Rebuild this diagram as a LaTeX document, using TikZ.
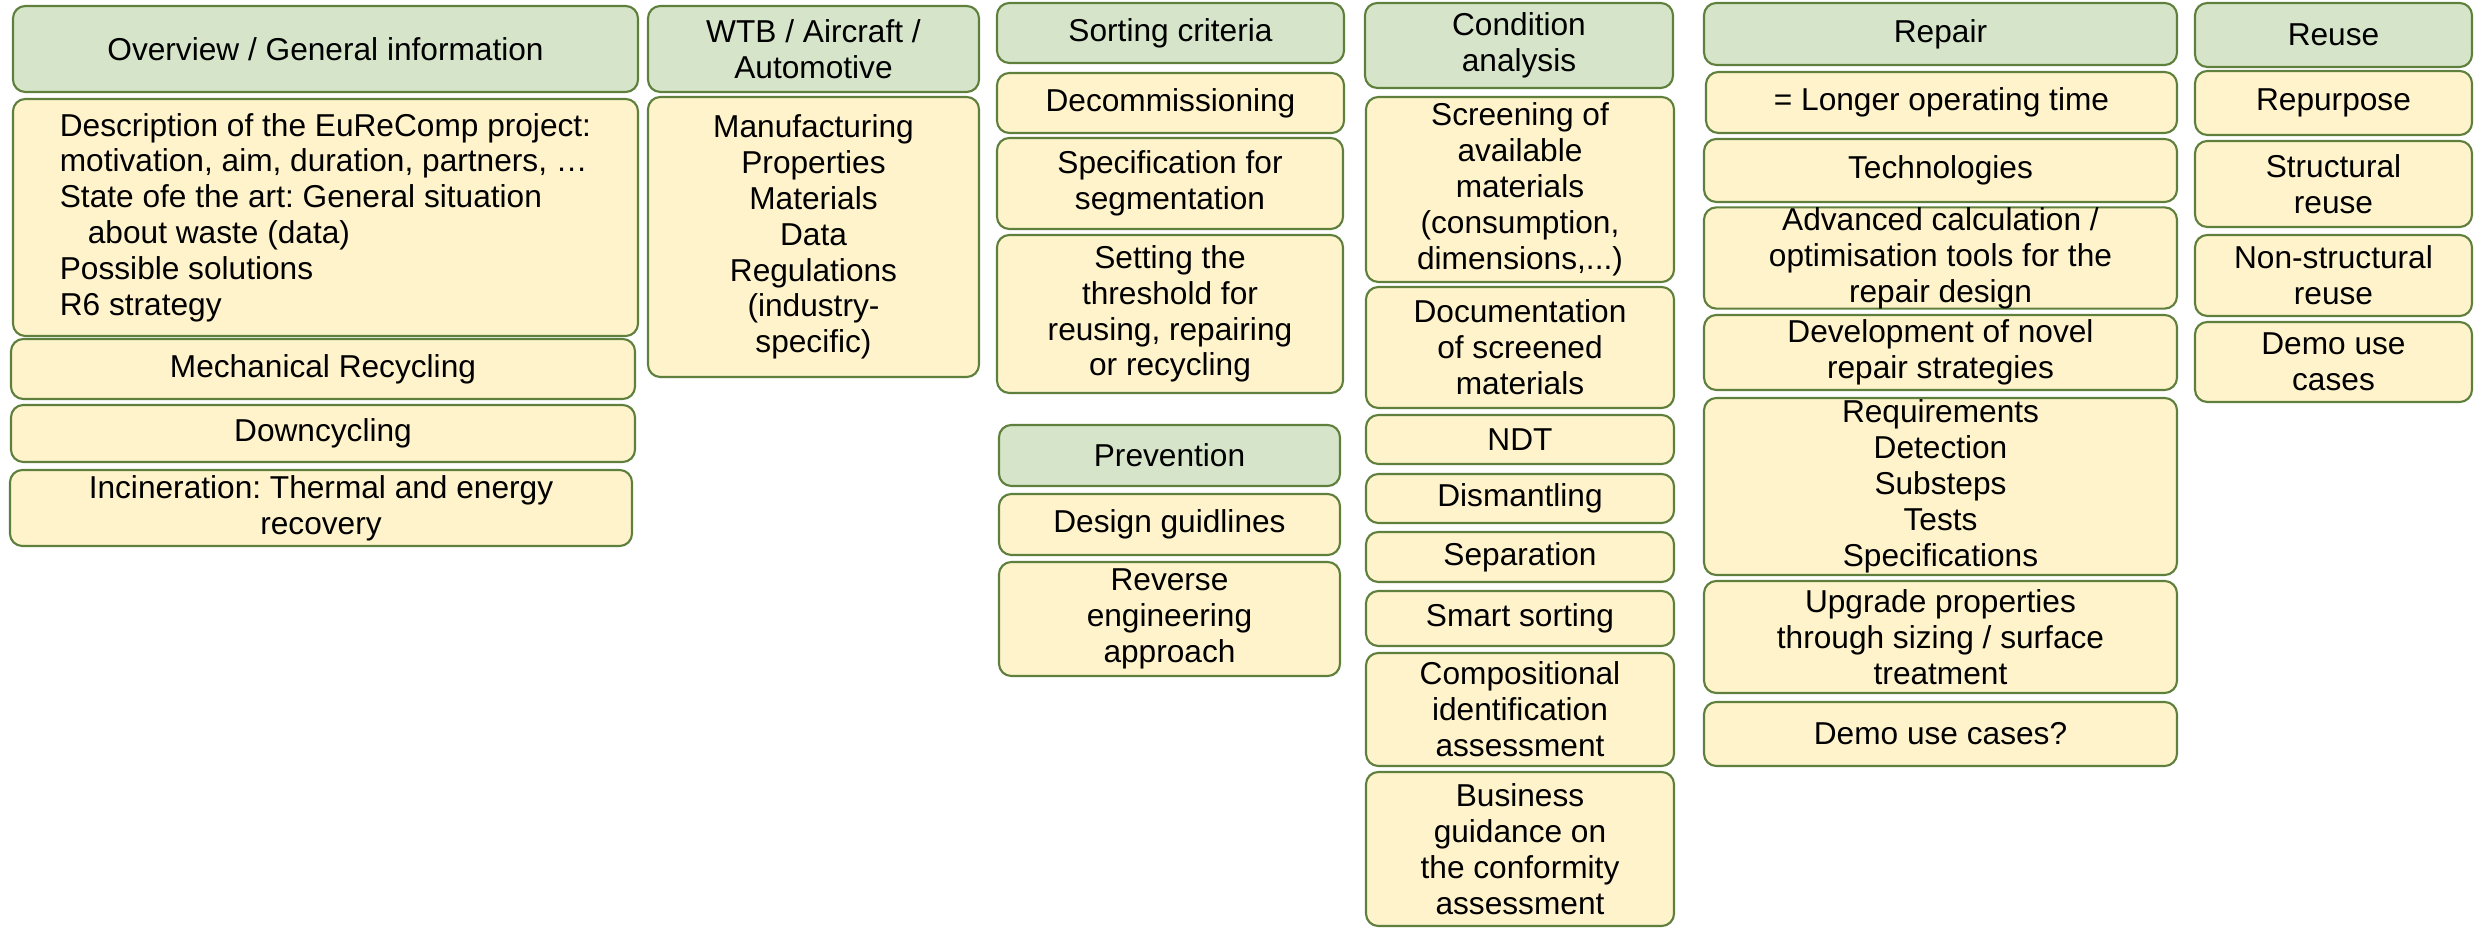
\documentclass[tikz,border=0pt]{standalone}
\usepackage{fontspec}
\setmainfont{Liberation Sans}
\frenchspacing
\definecolor{headfill}{HTML}{D6E5C9}
\definecolor{itemfill}{HTML}{FFF3CC}
\definecolor{boxline}{HTML}{5F7F3C}
\tikzset{
  box/.style={draw=boxline,line width=0.6pt,rounded corners=3.5pt,inner sep=0pt,align=center,font=\fontsize{9}{10.2}\selectfont},
  head/.style={box,fill=headfill},
  item/.style={box,fill=itemfill},
  cell/.style n args={4}{minimum width={(#3-#1)*0.01cm},minimum height={(#4-#2)*0.01cm},at={({(#1+#3)/2},{(#2+#4)/2})}}
}

\begin{document}
\begin{tikzpicture}[x=0.01cm,y=-0.01cm]
\useasboundingbox (0,0) rectangle (2474,928);
% overview
\node[head,cell={13}{6}{638}{92}] (overview) {Overview / General information};
\node[item,cell={13}{99}{638}{336},align=left] (descr) {Description of the EuReComp project:\\motivation, aim, duration, partners, …\\State ofe the art: General situation\\\hspace*{0.28cm}about waste (data)\\Possible solutions\\R6 strategy};
\node[item,cell={11}{339}{635}{399}] (mechrec) {Mechanical Recycling};
\node[item,cell={11}{405}{635}{462}] (downcyc) {Downcycling};
\node[item,cell={10}{470}{632}{546}] (inciner) {Incineration: Thermal and energy\\recovery};
% sectors
\node[head,cell={648}{6}{979}{92}] (wtb) {WTB / Aircraft /\\Automotive};
\node[item,cell={648}{97}{979}{377}] (manuf) {Manufacturing\\Properties\\Materials\\Data\\Regulations\\(industry-\\specific)};
% sorting and prevention
\node[head,cell={997}{3}{1344}{63}] (sorting) {Sorting criteria};
\node[item,cell={997}{73}{1344}{133}] (decomm) {Decommissioning};
\node[item,cell={997}{138}{1343}{229}] (segspec) {Specification for\\segmentation};
\node[item,cell={997}{235}{1343}{393}] (threshold) {Setting the\\threshold for\\reusing, repairing\\or recycling};
\node[head,cell={999}{425}{1340}{486}] (prevention) {Prevention};
\node[item,cell={999}{494}{1340}{555}] (designgl) {Design guidlines};
\node[item,cell={999}{562}{1340}{676}] (reveng) {Reverse\\engineering\\approach};
% condition analysis
\node[head,cell={1365}{3}{1673}{88}] (condition) {Condition\\analysis};
\node[item,cell={1366}{97}{1674}{282}] (screening) {Screening of\\available\\materials\\(consumption,\\dimensions,...)};
\node[item,cell={1366}{287}{1674}{408}] (docu) {Documentation\\of screened\\materials};
\node[item,cell={1366}{415}{1674}{464}] (ndt) {NDT};
\node[item,cell={1366}{474}{1674}{523}] (dismantle) {Dismantling};
\node[item,cell={1366}{532}{1674}{582}] (separation) {Separation};
\node[item,cell={1366}{591}{1674}{646}] (smartsort) {Smart sorting};
\node[item,cell={1366}{653}{1674}{766}] (compid) {Compositional\\identification\\assessment};
\node[item,cell={1366}{772}{1674}{926}] (business) {Business\\guidance on\\the conformity\\assessment};
% repair
\node[head,cell={1704}{3}{2177}{65}] (repair) {Repair};
\node[item,cell={1706}{72}{2177}{133}] (longer) {= Longer operating time};
\node[item,cell={1704}{139}{2177}{202}] (techno) {Technologies};
\node[item,cell={1704}{208}{2177}{308}] (advcalc) {Advanced calculation /\\optimisation tools for the\\repair design};
\node[item,cell={1704}{315}{2177}{390}] (novel) {Development of novel\\repair strategies};
\node[item,cell={1704}{398}{2177}{575}] (reqs) {Requirements\\Detection\\Substeps\\Tests\\Specifications};
\node[item,cell={1704}{581}{2177}{693}] (upgrade) {Upgrade properties\\through sizing / surface\\treatment};
\node[item,cell={1704}{702}{2177}{766}] (democases) {Demo use cases?};
% reuse
\node[head,cell={2195}{3}{2472}{67}] (reuse) {Reuse};
\node[item,cell={2195}{71}{2472}{135}] (repurpose) {Repurpose};
\node[item,cell={2195}{141}{2472}{227}] (structural) {Structural\\reuse};
\node[item,cell={2195}{235}{2472}{316}] (nonstruct) {Non-structural\\reuse};
\node[item,cell={2195}{322}{2472}{402}] (demouse) {Demo use\\cases};
\end{tikzpicture}
\end{document}
